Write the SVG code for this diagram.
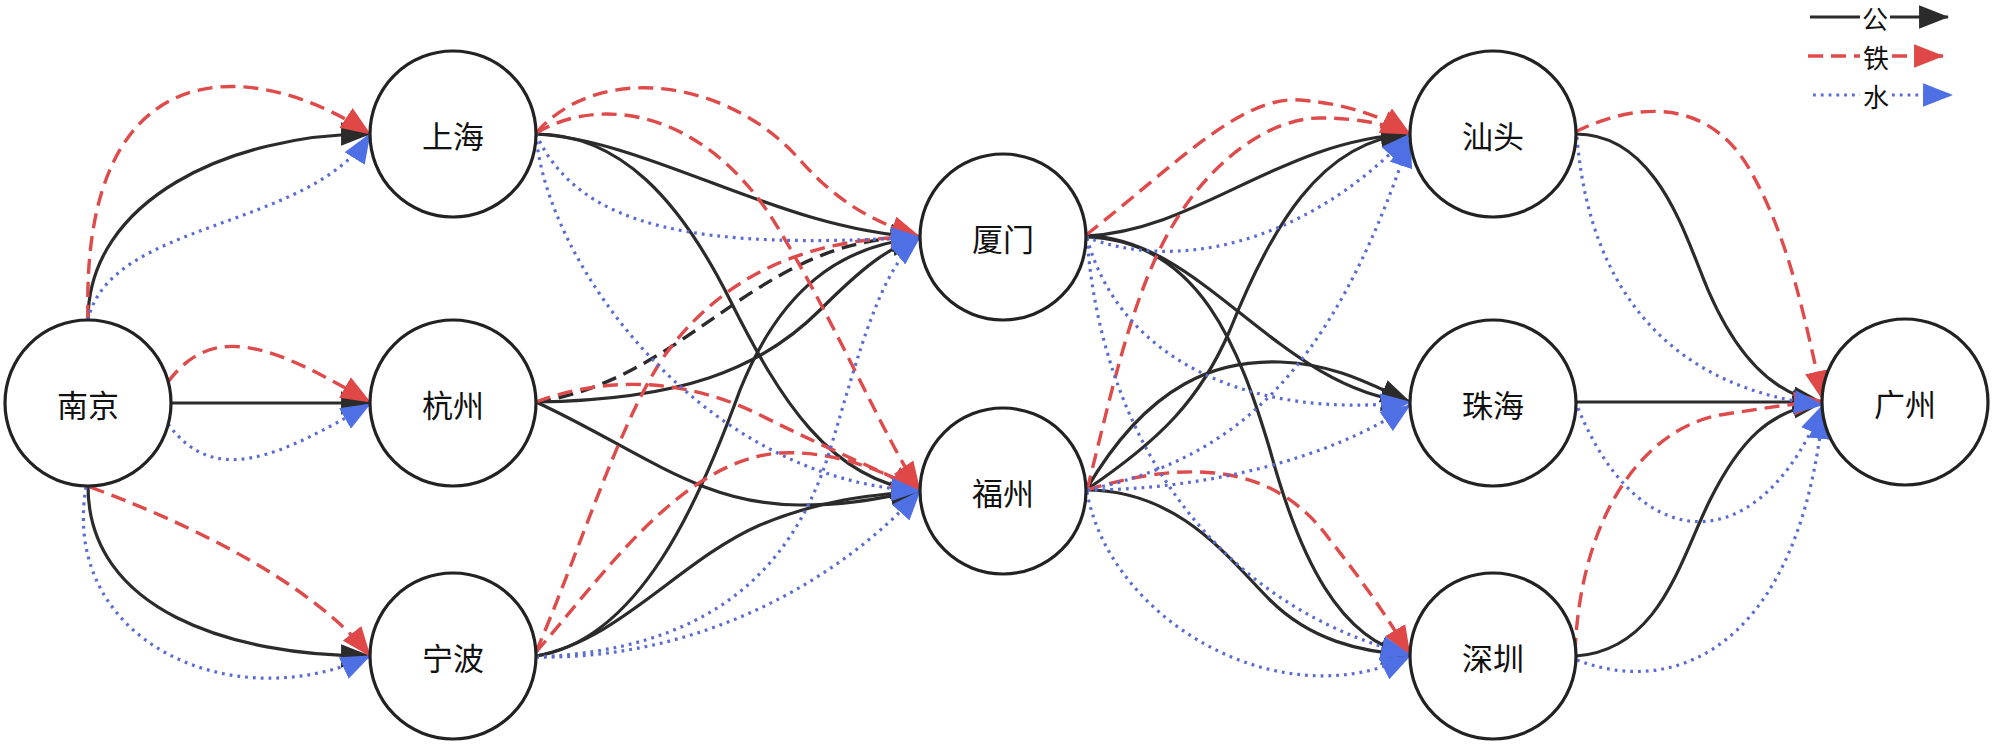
<svg xmlns="http://www.w3.org/2000/svg" width="2000" height="747" viewBox="0 0 2000 747">
<style>
.node circle{fill:#fff;stroke:#222;stroke-width:3.2}
.node text,.lg text{font-family:"Noto Sans CJK SC","Noto Sans",sans-serif;font-size:31px;text-anchor:middle;dominant-baseline:central;fill:#111}
.lg text{font-size:26px}
.road{fill:none;stroke:#2b2b2b;stroke-width:3.2}
.rail{fill:none;stroke:#df4a4a;stroke-width:3.4;stroke-dasharray:15 8}
.railk{fill:none;stroke:#2b2b2b;stroke-width:3.4;stroke-dasharray:15 8}
.water{fill:none;stroke:#5a6cd4;stroke-width:3.2;stroke-dasharray:2.8 5}
.road.a,.railk.a{marker-end:url(#aK)}
.rail.a{marker-end:url(#aR)}
.water.a{marker-end:url(#aB)}
</style>
<defs>
<marker id="aK" markerUnits="userSpaceOnUse" viewBox="0 0 28 22" markerWidth="30" markerHeight="24" refX="27" refY="11" orient="auto"><path d="M0,0 L28,11 L0,22 z" fill="#2b2b2b"/></marker>
<marker id="aR" markerUnits="userSpaceOnUse" viewBox="0 0 28 22" markerWidth="30" markerHeight="24" refX="27" refY="11" orient="auto"><path d="M0,0 L28,11 L0,22 z" fill="#e04848"/></marker>
<marker id="aB" markerUnits="userSpaceOnUse" viewBox="0 0 28 22" markerWidth="30" markerHeight="24" refX="27" refY="11" orient="auto"><path d="M0,0 L28,11 L0,22 z" fill="#4f70e4"/></marker>
</defs>
<rect width="2000" height="747" fill="#fff"/>
<g id="connectors">
<!-- road -->
<path class="road a" d="M88,320 C88,200 230,134 370,134"/>
<path class="road a" d="M171,403 L370,403"/>
<path class="road a" d="M88,486 C88,610 230,656 370,656"/>
<path class="road a" d="M536,134 C650,140 780,230 920,237"/>
<path class="road a" d="M536,134 C620,134 680,200 730,300 C780,400 830,480 920,491"/>
<path class="road a" d="M536,402 C680,400 760,370 820,310 C860,270 890,245 920,238"/>
<path class="road a" d="M536,402 C640,450 700,505 800,505 C860,505 890,495 920,491"/>
<path class="road a" d="M536,656 C640,640 700,500 740,390 C780,290 840,245 920,238"/>
<path class="road a" d="M536,656 C620,640 680,560 760,525 C820,500 870,495 920,491"/>
<path class="road a" d="M1086,236 C1200,230 1280,140 1410,134"/>
<path class="road a" d="M1086,236 C1200,236 1280,390 1410,402"/>
<path class="road a" d="M1086,237 C1200,240 1240,350 1270,450 C1300,560 1340,640 1410,655"/>
<path class="road a" d="M1086,490 C1160,440 1200,400 1230,330 C1270,230 1320,140 1410,134"/>
<path class="road a" d="M1086,490 C1150,380 1220,360 1280,362 C1340,364 1380,390 1410,402"/>
<path class="road a" d="M1086,490 C1180,490 1230,560 1270,600 C1310,640 1360,652 1410,655"/>
<path class="road a" d="M1576,134 C1650,134 1680,220 1700,270 C1730,350 1770,395 1822,402"/>
<path class="road a" d="M1576,402 L1822,402"/>
<path class="road a" d="M1576,656 C1660,650 1680,560 1710,500 C1740,440 1770,410 1822,403"/>
<path class="railk a" d="M536,402 C620,390 680,340 740,300 C800,260 850,237 920,237"/>
<!-- rail -->
<path class="rail a" d="M88,320 C80,40 260,60 370,134"/>
<path class="rail a" d="M168,382 C215,318 280,350 370,402"/>
<path class="rail a" d="M90,487 C180,520 310,580 370,656"/>
<path class="rail a" d="M536,133 C600,60 730,80 800,160 C840,205 875,222 920,237"/>
<path class="rail a" d="M536,133 C600,95 700,110 770,215 C830,310 885,440 920,491"/>
<path class="rail a" d="M536,402 C600,378 680,375 760,415 C830,450 880,470 920,491"/>
<path class="rail a" d="M536,652 C580,550 620,420 665,355 C720,280 800,237 920,237"/>
<path class="rail a" d="M536,652 C600,580 680,460 780,453 C840,450 890,475 920,491"/>
<path class="rail a" d="M1086,235 C1170,170 1240,95 1300,100 C1350,104 1385,118 1410,134"/>
<path class="rail a" d="M1087,490 C1110,400 1130,300 1170,230 C1210,160 1270,118 1320,118 C1360,118 1390,125 1410,134"/>
<path class="rail a" d="M1087,490 C1200,455 1280,470 1330,540 C1370,590 1395,630 1410,655"/>
<path class="rail a" d="M1575,132 C1640,100 1710,100 1750,170 C1790,240 1805,320 1823,400"/>
<path class="rail a" d="M1575,653 C1580,520 1640,430 1720,415 C1770,407 1800,403 1823,401"/>
<!-- water -->
<path class="water a" d="M88,320 C110,220 310,230 370,134"/>
<path class="water a" d="M168,424 C215,488 280,456 370,404"/>
<path class="water a" d="M86,487 C60,640 230,720 370,656"/>
<path class="water a" d="M536,134 C580,230 700,250 920,237"/>
<path class="water a" d="M536,134 C545,260 700,480 920,491"/>
<path class="water a" d="M536,657 C700,650 790,580 830,450 C860,350 880,270 920,237"/>
<path class="water a" d="M536,657 C700,660 840,580 920,491"/>
<path class="water a" d="M1086,237 C1170,270 1300,250 1410,134"/>
<path class="water a" d="M1087,238 C1120,360 1250,420 1410,402"/>
<path class="water a" d="M1087,238 C1100,420 1200,600 1410,655"/>
<path class="water a" d="M1087,490 C1230,460 1330,380 1410,138"/>
<path class="water a" d="M1087,490 C1200,490 1330,460 1410,405"/>
<path class="water a" d="M1087,492 C1110,620 1280,720 1410,656"/>
<path class="water a" d="M1577,137 C1590,300 1680,390 1823,405"/>
<path class="water a" d="M1578,408 C1640,560 1760,560 1823,405"/>
<path class="water a" d="M1577,660 C1680,700 1800,640 1823,410"/>
</g>
<g id="n-nanjing" class="node"><circle cx="88" cy="403" r="83"/><text x="88" y="403">南京</text></g>
<g id="n-shanghai" class="node"><circle cx="453" cy="134" r="83"/><text x="453" y="134">上海</text></g>
<g id="n-hangzhou" class="node"><circle cx="453" cy="403" r="83"/><text x="453" y="403">杭州</text></g>
<g id="n-ningbo" class="node"><circle cx="453" cy="656" r="83"/><text x="453" y="656">宁波</text></g>
<g id="n-xiamen" class="node"><circle cx="1003" cy="237" r="83"/><text x="1003" y="237">厦门</text></g>
<g id="n-fuzhou" class="node"><circle cx="1003" cy="491" r="83"/><text x="1003" y="491">福州</text></g>
<g id="n-shantou" class="node"><circle cx="1493" cy="134" r="83"/><text x="1493" y="134">汕头</text></g>
<g id="n-zhuhai" class="node"><circle cx="1493" cy="403" r="83"/><text x="1493" y="403">珠海</text></g>
<g id="n-shenzhen" class="node"><circle cx="1493" cy="656" r="83"/><text x="1493" y="656">深圳</text></g>
<g id="n-guangzhou" class="node"><circle cx="1905" cy="402" r="83"/><text x="1905" y="402">广州</text></g>
<g id="legend" class="lg">
<path class="road" d="M1810,17 L1860,17"/><text x="1875" y="17">公</text><path class="road a" d="M1890,17 L1948,17"/>
<path class="rail" d="M1808,56 L1860,56"/><text x="1876" y="56">铁</text><path class="rail a" d="M1892,56 L1943,56"/>
<path class="water" d="M1813,95 L1860,95"/><text x="1876" y="95">水</text><path class="water a" d="M1892,95 L1952,95"/>
</g>
</svg>
